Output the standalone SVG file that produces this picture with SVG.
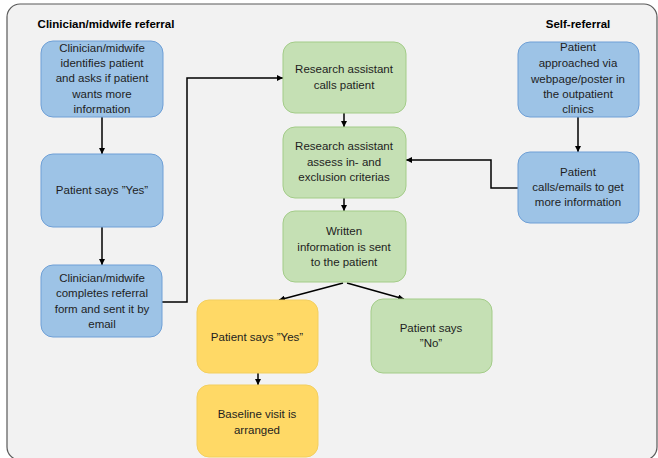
<svg xmlns="http://www.w3.org/2000/svg" width="658" height="458" viewBox="0 0 658 458">
<defs>
<marker id="ah" viewBox="0 0 10 10" refX="10" refY="5" markerWidth="6" markerHeight="6" markerUnits="userSpaceOnUse" orient="auto">
<path d="M0,0 L10,5 L0,10 z" fill="#000"/>
</marker>
<style>
.blue{fill:#9DC3E6;stroke:#6E9FD6;stroke-width:1}
.green{fill:#C5E0B4;stroke:#A3CC88;stroke-width:1}
.yellow{fill:#FFD966;stroke:#F3CF5E;stroke-width:1}
text{font-family:"Liberation Sans",Arial,sans-serif;font-size:11.5px;fill:#1e1e1e;text-anchor:middle}
.hdr{font-weight:bold;fill:#000;font-size:11.5px}
.conn{fill:none;stroke:#000;stroke-width:1.5;marker-end:url(#ah)}
</style>
</defs>
<rect x="0" y="0" width="658" height="458" fill="#fff"/>
<rect x="7" y="4" width="650" height="456" rx="13" fill="#F2F2F2" stroke="#595959" stroke-width="1.2"/>
<text class="hdr" x="106" y="28">Clinician/midwife referral</text>
<text class="hdr" x="578" y="28">Self-referral</text>

<g id="connectors">
<path class="conn" d="M102,117 V154"/>
<path class="conn" d="M102,227 V265"/>
<path class="conn" d="M162,302 H187 V78 H283"/>
<path class="conn" d="M344,113 V127"/>
<path class="conn" d="M344,198 V211"/>
<path class="conn" d="M578,117 V152"/>
<path class="conn" d="M518,188 H491 V160 H406"/>
<path class="conn" d="M343,283 L279,300"/>
<path class="conn" d="M347,283 L404,299"/>
<path class="conn" d="M258,373 V385"/>
</g>

<g id="n_cm1">
<rect class="blue" x="41" y="41" width="122" height="76" rx="12"/>
<text x="102" y="52">Clinician/midwife</text>
<text x="102" y="67">identifies patient</text>
<text x="102" y="82">and asks if patient</text>
<text x="102" y="98">wants more</text>
<text x="102" y="113">information</text>
</g>
<g id="n_cm2">
<rect class="blue" x="41" y="154" width="122" height="73" rx="12"/>
<text x="102" y="194">Patient says ”Yes”</text>
</g>
<g id="n_cm3">
<rect class="blue" x="41" y="265" width="121" height="72" rx="12"/>
<text x="102" y="282">Clinician/midwife</text>
<text x="102" y="297">completes referral</text>
<text x="102" y="313">form and sent it by</text>
<text x="102" y="328">email</text>
</g>
<g id="n_ra1">
<rect class="green" x="283" y="42" width="123" height="71" rx="12"/>
<text x="344" y="73">Research assistant</text>
<text x="344" y="89">calls patient</text>
</g>
<g id="n_ra2">
<rect class="green" x="283" y="127" width="123" height="71" rx="12"/>
<text x="344" y="150">Research assistant</text>
<text x="344" y="166">assess in- and</text>
<text x="344" y="181">exclusion criterias</text>
</g>
<g id="n_ra3">
<rect class="green" x="283" y="211" width="123" height="71" rx="12"/>
<text x="344" y="235">Written</text>
<text x="344" y="251">information is sent</text>
<text x="344" y="266">to the patient</text>
</g>
<g id="n_sr1">
<rect class="blue" x="518" y="42" width="121" height="75" rx="12"/>
<text x="578" y="51">Patient</text>
<text x="578" y="67">approached via</text>
<text x="578" y="83">webpage/poster in</text>
<text x="578" y="98">the outpatient</text>
<text x="578" y="113">clinics</text>
</g>
<g id="n_sr2">
<rect class="blue" x="518" y="152" width="121" height="71" rx="12"/>
<text x="578" y="176">Patient</text>
<text x="578" y="191">calls/emails to get</text>
<text x="578" y="206">more information</text>
</g>
<g id="n_yes">
<rect class="yellow" x="197" y="300" width="121" height="73" rx="12"/>
<text x="257" y="341">Patient says ”Yes”</text>
</g>
<g id="n_base">
<rect class="yellow" x="197" y="385" width="121" height="72" rx="12"/>
<text x="257" y="418">Baseline visit is</text>
<text x="257" y="434">arranged</text>
</g>
<g id="n_no">
<rect class="green" x="371" y="299" width="121" height="74" rx="12"/>
<text x="431" y="332">Patient says</text>
<text x="431" y="347">”No”</text>
</g>
</svg>
